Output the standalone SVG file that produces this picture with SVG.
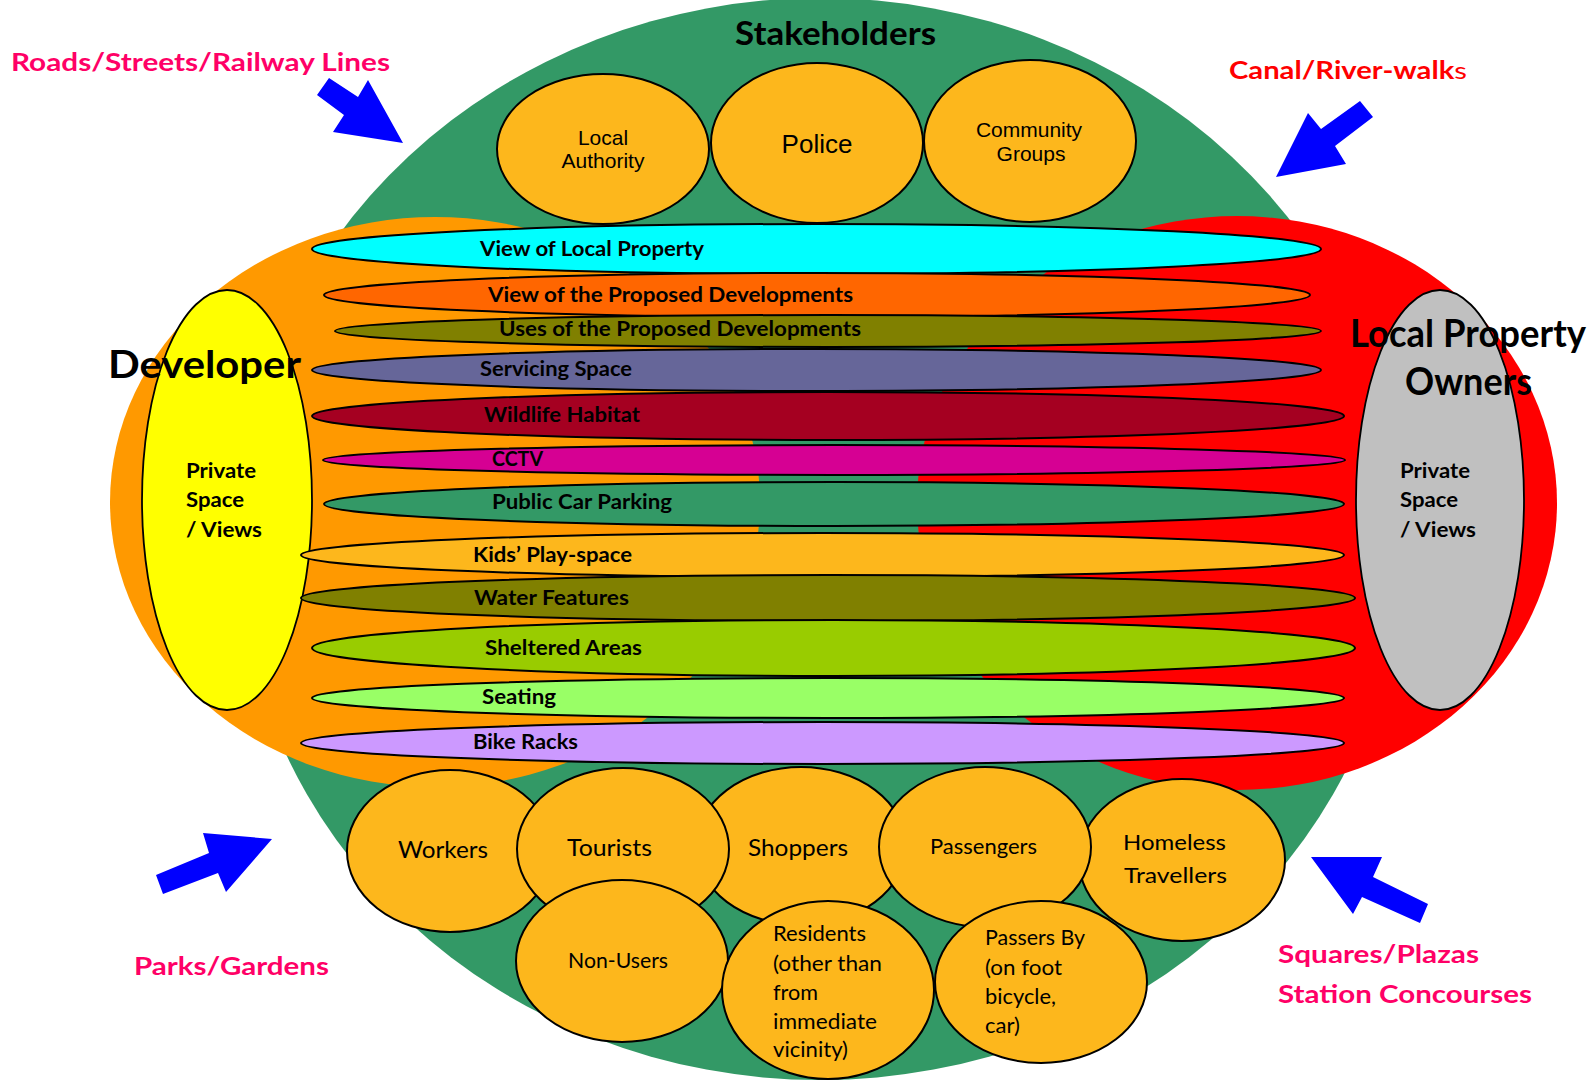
<svg xmlns="http://www.w3.org/2000/svg" width="1593" height="1080" viewBox="0 0 1593 1080">
<style>
.bub{fill:#FDB71C;stroke:#000;stroke-width:2}
.str{stroke:#000;stroke-width:2}
.pv{stroke:#000;stroke-width:1.8}
.lb{font-family:Lato,"Open Sans",sans-serif;font-weight:bold;fill:#000}
.lr{font-family:Lato,"Open Sans",sans-serif;font-weight:normal;fill:#000}
.ar{font-family:"Liberation Sans",Arial,sans-serif;fill:#000;text-anchor:middle}
.loc{font-family:Lato,"Open Sans",sans-serif;font-weight:bold;fill:#FF0066}
.arrow{fill:#0000FF}
</style>
<rect width="1593" height="1080" fill="#FFFFFF"/>
<g id="stakeholders-area">
<ellipse cx="820" cy="539" rx="582" ry="541" fill="#339966"/>
<text class="lb" x="735" y="45" font-size="32" textLength="201" lengthAdjust="spacingAndGlyphs">Stakeholders</text>
</g>
<g id="developer-area">
<ellipse cx="435" cy="502" rx="325" ry="285" fill="#FF9900"/>
</g>
<g id="owners-area">
<ellipse cx="1237" cy="503" rx="320" ry="287" fill="#FF0000"/>
</g>
<g id="local-authority">
<ellipse class="bub" cx="603" cy="149" rx="106" ry="75"/>
<text class="ar" x="603" y="145" font-size="21">Local</text>
<text class="ar" x="603" y="168" font-size="21">Authority</text>
</g>
<g id="police">
<ellipse class="bub" cx="817" cy="143" rx="106" ry="80"/>
<text class="ar" x="817" y="153" font-size="26">Police</text>
</g>
<g id="community-groups">
<ellipse class="bub" cx="1030" cy="141" rx="106" ry="81"/>
<text class="ar" x="1029" y="137" font-size="21">Community</text>
<text class="ar" x="1031" y="161" font-size="21">Groups</text>
</g>
<g id="developer-private">
<ellipse class="pv" cx="227" cy="500" rx="85" ry="210" fill="#FFFF00"/>
<text class="lb" x="186" y="478" font-size="20" textLength="70" lengthAdjust="spacingAndGlyphs">Private</text>
<text class="lb" x="186" y="507" font-size="20" textLength="58" lengthAdjust="spacingAndGlyphs">Space</text>
<text class="lb" x="186" y="537" font-size="20" textLength="76" lengthAdjust="spacingAndGlyphs">/ Views</text>
</g>
<g id="owners-private">
<ellipse class="pv" cx="1440" cy="500" rx="84" ry="210" fill="#C0C0C0"/>
<text class="lb" x="1400" y="478" font-size="20" textLength="70" lengthAdjust="spacingAndGlyphs">Private</text>
<text class="lb" x="1400" y="507" font-size="20" textLength="58" lengthAdjust="spacingAndGlyphs">Space</text>
<text class="lb" x="1400" y="537" font-size="20" textLength="76" lengthAdjust="spacingAndGlyphs">/ Views</text>
</g>
<g id="view-local-property">
<ellipse class="str" cx="816.5" cy="249" rx="504.5" ry="25" fill="#00FFFF"/>
<text class="lb" x="480" y="256" font-size="20" textLength="224" lengthAdjust="spacingAndGlyphs">View of Local Property</text>
</g>
<g id="view-proposed">
<ellipse class="str" cx="817" cy="295" rx="493" ry="22" fill="#FF6600"/>
<text class="lb" x="488" y="302" font-size="20" textLength="365" lengthAdjust="spacingAndGlyphs">View of the Proposed Developments</text>
</g>
<g id="uses-proposed">
<ellipse class="str" cx="828" cy="331" rx="493" ry="16" fill="#808000"/>
<text class="lb" x="499" y="336" font-size="20" textLength="362" lengthAdjust="spacingAndGlyphs">Uses of the Proposed Developments</text>
</g>
<g id="servicing-space">
<ellipse class="str" cx="816.5" cy="370" rx="504.5" ry="21" fill="#666699"/>
<text class="lb" x="480" y="376" font-size="20" textLength="152" lengthAdjust="spacingAndGlyphs">Servicing Space</text>
</g>
<g id="wildlife-habitat">
<ellipse class="str" cx="828" cy="416" rx="516" ry="24" fill="#A50021"/>
<text class="lb" x="484" y="422" font-size="20" textLength="156" lengthAdjust="spacingAndGlyphs">Wildlife Habitat</text>
</g>
<g id="cctv">
<ellipse class="str" cx="834" cy="460" rx="511" ry="15" fill="#D60093"/>
<text class="lb" x="492" y="466" font-size="20" textLength="51" lengthAdjust="spacingAndGlyphs">CCTV</text>
</g>
<g id="public-car-parking">
<ellipse class="str" cx="834" cy="504" rx="510" ry="22" fill="#339966"/>
<text class="lb" x="492" y="509" font-size="20" textLength="180" lengthAdjust="spacingAndGlyphs">Public Car Parking</text>
</g>
<g id="kids-play-space">
<ellipse class="str" cx="822.5" cy="555" rx="521.5" ry="22" fill="#FDB71C"/>
<text class="lb" x="473" y="562" font-size="20" textLength="159" lengthAdjust="spacingAndGlyphs">Kids’ Play-space</text>
</g>
<g id="water-features">
<ellipse class="str" cx="828" cy="598" rx="527" ry="23" fill="#808000"/>
<text class="lb" x="474" y="605" font-size="20" textLength="155" lengthAdjust="spacingAndGlyphs">Water Features</text>
</g>
<g id="sheltered-areas">
<ellipse class="str" cx="833.5" cy="648" rx="521.5" ry="28" fill="#99CC00"/>
<text class="lb" x="485" y="655" font-size="20" textLength="157" lengthAdjust="spacingAndGlyphs">Sheltered Areas</text>
</g>
<g id="seating">
<ellipse class="str" cx="828" cy="698" rx="516" ry="20" fill="#99FF66"/>
<text class="lb" x="482" y="704" font-size="20" textLength="74" lengthAdjust="spacingAndGlyphs">Seating</text>
</g>
<g id="bike-racks">
<ellipse class="str" cx="822.5" cy="743" rx="521.5" ry="21" fill="#CC99FF"/>
<text class="lb" x="473" y="749" font-size="20" textLength="105" lengthAdjust="spacingAndGlyphs">Bike Racks</text>
</g>
<g id="developer-label">
<text class="lb" x="108" y="378" font-size="38" textLength="193" lengthAdjust="spacingAndGlyphs">Developer</text>
</g>
<g id="owners-label">
<text class="lb" x="1350" y="347" font-size="38" textLength="236" lengthAdjust="spacingAndGlyphs">Local Property</text>
<text class="lb" x="1405" y="395" font-size="38" textLength="127" lengthAdjust="spacingAndGlyphs">Owners</text>
</g>
<g id="workers">
<ellipse class="bub" cx="450" cy="851" rx="103" ry="81"/>
<text class="lr" x="398" y="858" font-size="23" textLength="90" lengthAdjust="spacingAndGlyphs">Workers</text>
</g>
<g id="shoppers">
<ellipse class="bub" cx="801" cy="846" rx="105" ry="79"/>
<text class="lr" x="748" y="856" font-size="23" textLength="100" lengthAdjust="spacingAndGlyphs">Shoppers</text>
</g>
<g id="homeless-travellers">
<ellipse class="bub" cx="1182" cy="860" rx="103" ry="81"/>
<text class="lr" x="1123" y="850" font-size="22" textLength="103" lengthAdjust="spacingAndGlyphs">Homeless</text>
<text class="lr" x="1124" y="883" font-size="22" textLength="103" lengthAdjust="spacingAndGlyphs">Travellers</text>
</g>
<g id="tourists">
<ellipse class="bub" cx="623" cy="849" rx="106" ry="81"/>
<text class="lr" x="567" y="856" font-size="23" textLength="85" lengthAdjust="spacingAndGlyphs">Tourists</text>
</g>
<g id="passengers">
<ellipse class="bub" cx="985" cy="847" rx="106" ry="80"/>
<text class="lr" x="930" y="854" font-size="20.5" textLength="107" lengthAdjust="spacingAndGlyphs">Passengers</text>
</g>
<g id="non-users">
<ellipse class="bub" cx="622" cy="961" rx="106" ry="81"/>
<text class="lr" x="568" y="968" font-size="21" textLength="100" lengthAdjust="spacingAndGlyphs">Non-Users</text>
</g>
<g id="residents">
<ellipse class="bub" cx="828" cy="990" rx="106" ry="89"/>
<text class="lr" x="773" y="941" font-size="21" textLength="93" lengthAdjust="spacingAndGlyphs">Residents</text>
<text class="lr" x="773" y="971" font-size="21" textLength="109" lengthAdjust="spacingAndGlyphs">(other than</text>
<text class="lr" x="773" y="1000" font-size="21" textLength="45" lengthAdjust="spacingAndGlyphs">from</text>
<text class="lr" x="773" y="1029" font-size="21" textLength="104" lengthAdjust="spacingAndGlyphs">immediate</text>
<text class="lr" x="773" y="1057" font-size="21" textLength="75" lengthAdjust="spacingAndGlyphs">vicinity)</text>
</g>
<g id="passers-by">
<ellipse class="bub" cx="1041" cy="982" rx="106" ry="81"/>
<text class="lr" x="985" y="945" font-size="20.5" textLength="100" lengthAdjust="spacingAndGlyphs">Passers By</text>
<text class="lr" x="985" y="975" font-size="20.5" textLength="77" lengthAdjust="spacingAndGlyphs">(on foot</text>
<text class="lr" x="985" y="1004" font-size="20.5" textLength="71" lengthAdjust="spacingAndGlyphs">bicycle,</text>
<text class="lr" x="985" y="1033" font-size="20.5" textLength="35" lengthAdjust="spacingAndGlyphs">car)</text>
</g>
<g id="roads-label">
<text class="loc" x="11" y="71" font-size="24" textLength="379" lengthAdjust="spacingAndGlyphs">Roads/Streets/Railway Lines</text>
</g>
<g id="canal-label">
<text class="loc" x="1229" y="79" font-size="24" style="fill:#FF0000" textLength="238" lengthAdjust="spacingAndGlyphs">Canal/River-walk<tspan font-weight="normal">s</tspan></text>
</g>
<g id="parks-label">
<text class="loc" x="134" y="975" font-size="24" textLength="195" lengthAdjust="spacingAndGlyphs">Parks/Gardens</text>
</g>
<g id="squares-label">
<text class="loc" x="1278" y="963" font-size="24" textLength="201" lengthAdjust="spacingAndGlyphs">Squares/Plazas</text>
<text class="loc" x="1278" y="1003" font-size="24" textLength="254" lengthAdjust="spacingAndGlyphs">Station Concourses</text>
</g>
<g id="connectors">
<polygon class="arrow" points="329,78 358,97 368,80 403,143 333,132 344,115 317,95"/>
<polygon class="arrow" points="1360,101 1373,117 1335,146 1346,164 1276,177 1308,113 1321,129"/>
<polygon class="arrow" points="156,875 163,894 218,873 226,892 272,839 203,833 209,853"/>
<polygon class="arrow" points="1311,857 1382,857 1373,877 1428,904 1420,923 1362,897 1353,914"/>
</g>
</svg>
